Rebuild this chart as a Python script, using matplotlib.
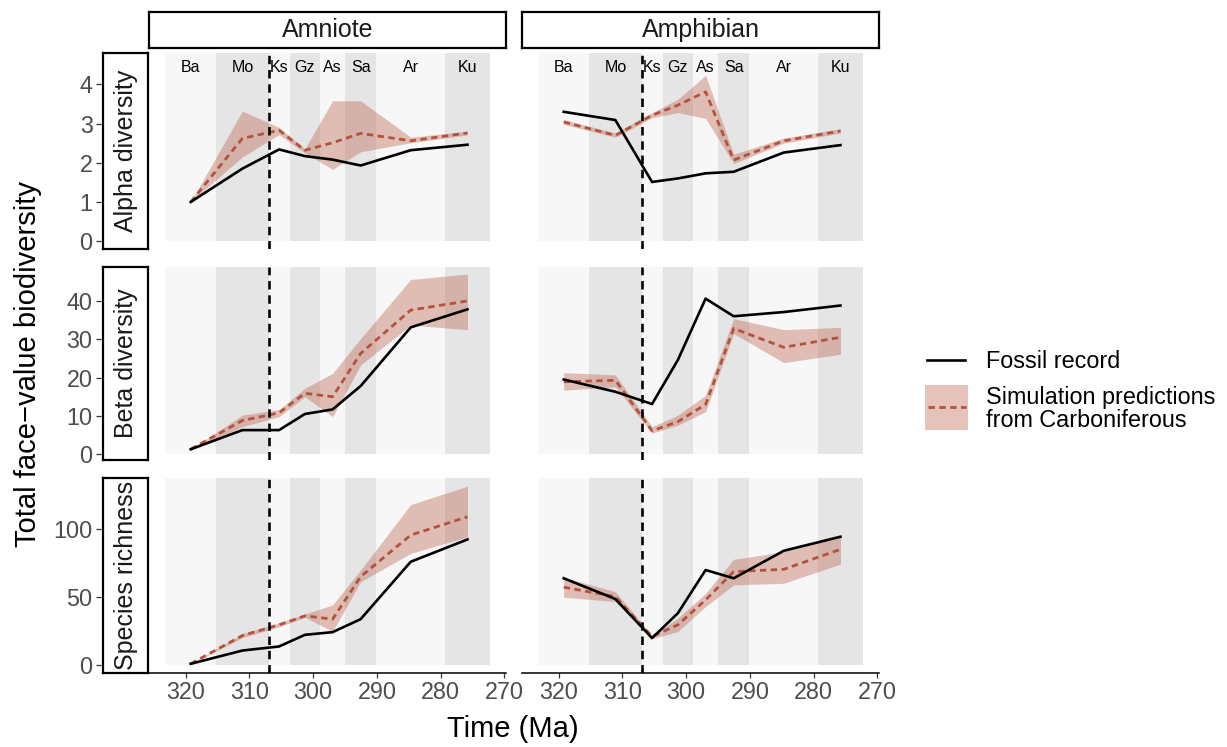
import numpy as np
import matplotlib
matplotlib.use('Agg')
import matplotlib.pyplot as plt
from matplotlib.patches import Rectangle

plt.rcParams['font.family'] = ['Liberation Sans', 'DejaVu Sans']

# stages (GTS2012 boundaries, Ma)
stages = ['Ba', 'Mo', 'Ks', 'Gz', 'As', 'Sa', 'Ar', 'Ku']
stage_top = [323.2, 315.2, 307.0, 303.7, 298.9, 295.0, 290.1, 279.3]
stage_base = [315.2, 307.0, 303.7, 298.9, 295.0, 290.1, 279.3, 272.3]
carb_cut = 307.0

groups = ['Amniote', 'Amphibian']
metrics = ['Alpha diversity', 'Beta diversity', 'Species richness']

# alpha diversity
amn_alpha_fossil = [1.00, 1.85, 2.34, 2.17, 2.08, 1.93, 2.32, 2.46]
amn_alpha_sim = [1.00, 2.62, 2.83, 2.32, 2.51, 2.75, 2.56, 2.76]
amn_alpha_lo = [1.00, 2.15, 2.72, 2.25, 1.83, 2.28, 2.51, 2.71]
amn_alpha_hi = [1.00, 3.32, 2.90, 2.36, 3.58, 3.58, 2.65, 2.81]
amp_alpha_fossil = [3.30, 3.09, 1.51, 1.60, 1.73, 1.77, 2.26, 2.45]
amp_alpha_sim = [3.04, 2.70, 3.21, 3.47, 3.81, 2.07, 2.56, 2.81]
amp_alpha_lo = [2.98, 2.65, 3.15, 3.28, 3.13, 1.98, 2.50, 2.76]
amp_alpha_hi = [3.10, 2.76, 3.28, 3.62, 4.23, 2.22, 2.63, 2.87]

# beta diversity
amn_beta_fossil = [1.3, 6.3, 6.3, 10.5, 11.7, 17.8, 33.1, 37.8]
amn_beta_sim = [1.3, 8.8, 10.8, 15.9, 15.0, 26.3, 37.6, 40.0]
amn_beta_lo = [1.3, 7.2, 9.8, 15.0, 9.8, 23.3, 33.7, 32.5]
amn_beta_hi = [1.3, 10.2, 11.7, 17.2, 21.1, 30.2, 45.6, 47.0]
amp_beta_fossil = [19.5, 16.3, 13.1, 24.6, 40.6, 36.0, 37.1, 38.8]
amp_beta_sim = [18.9, 19.3, 6.1, 8.5, 13.0, 32.8, 27.9, 30.5]
amp_beta_lo = [16.7, 17.6, 5.5, 7.6, 11.1, 31.5, 23.9, 26.1]
amp_beta_hi = [21.3, 20.7, 7.2, 10.2, 15.4, 35.4, 32.5, 33.1]

# species richness
amn_rich_fossil = [0.7, 10.5, 13.5, 22.1, 24.1, 33.7, 76.1, 92.6]
amn_rich_sim = [0.7, 21.6, 29.5, 36.1, 33.7, 65.1, 95.8, 109.3]
amn_rich_lo = [0.7, 20.0, 28.0, 35.0, 24.6, 61.4, 82.3, 94.6]
amn_rich_hi = [0.7, 23.0, 31.0, 37.5, 44.2, 70.0, 118.4, 131.9]
amp_rich_fossil = [63.9, 48.6, 19.7, 38.1, 70.0, 63.9, 84.2, 94.6]
amp_rich_sim = [57.3, 50.3, 20.9, 29.5, 47.9, 68.8, 70.5, 85.3]
amp_rich_lo = [49.9, 46.7, 19.2, 24.6, 43.0, 59.0, 60.2, 74.4]
amp_rich_hi = [64.6, 54.0, 21.6, 34.4, 52.8, 77.9, 83.5, 95.1]

xticks = [320, 310, 300, 290, 280, 270]
yticks = [[0, 1, 2, 3, 4], [0, 10, 20, 30, 40], [0, 50, 100]]

series = {
    (0, 0): (amn_alpha_fossil, amn_alpha_sim, amn_alpha_lo, amn_alpha_hi),
    (0, 1): (amp_alpha_fossil, amp_alpha_sim, amp_alpha_lo, amp_alpha_hi),
    (1, 0): (amn_beta_fossil, amn_beta_sim, amn_beta_lo, amn_beta_hi),
    (1, 1): (amp_beta_fossil, amp_beta_sim, amp_beta_lo, amp_beta_hi),
    (2, 0): (amn_rich_fossil, amn_rich_sim, amn_rich_lo, amn_rich_hi),
    (2, 1): (amp_rich_fossil, amp_rich_sim, amp_rich_lo, amp_rich_hi),
}

mids = (np.array(stage_top) + np.array(stage_base)) / 2
SIM = '#B5523B'
SMALL = 16.8
STRIP = 18
BIG = 21
SIM_LS = (0, (2.3, 1.6))

W, H = 1227, 747
fig = plt.figure(figsize=(W / 100, H / 100), dpi=100)


def frac(x, y, w, h):
    return [x / W, 1 - (y + h) / H, w / W, h / H]


col_x = [149, 522]
col_w = 357
row_y = [53, 267, 478]
row_h = [196, 193, 195]
ylims = [(-0.2, 4.8), (-1.5, 48.85), (-6.1, 138.0)]
xlim = (325.745, 269.755)

for i, metric in enumerate(metrics):
    for j, group in enumerate(groups):
        ax = fig.add_axes(frac(col_x[j], row_y[i], col_w, row_h[i]))
        ax.set_xlim(*xlim)
        ax.set_ylim(*ylims[i])
        top = ylims[i][1]
        for k in range(len(stages)):
            ax.add_patch(Rectangle((stage_base[k], 0), stage_top[k] - stage_base[k], top,
                                   facecolor='#F7F7F7' if k % 2 == 0 else '#E5E5E5',
                                   lw=0, zorder=0))
        fossil, sim, lo, hi = series[(i, j)]
        ax.fill_between(mids, lo, hi, color=SIM, alpha=0.35, lw=0, zorder=2)
        ax.plot(mids, sim, color=SIM, lw=2.0, ls=SIM_LS, zorder=3)
        ax.plot(mids, fossil, color='black', lw=1.9, zorder=4)
        ax.axvline(carb_cut, color='black', lw=1.9, ls=(0, (3.2, 2.2)), zorder=5)

        if i == 0:
            for k, s in enumerate(stages):
                ax.text(mids[k], 0.925, s, transform=ax.get_xaxis_transform(),
                        ha='center', va='center', fontsize=11.5)

        for s in ['top', 'right']:
            ax.spines[s].set_visible(False)
        if i < 2:
            ax.spines['bottom'].set_visible(False)
            ax.set_xticks([])
        else:
            ax.set_xticks(xticks)
            ax.spines['bottom'].set_linewidth(1.1)
            ax.tick_params(axis='x', length=3.6, width=0.9, color='#333333',
                           labelsize=SMALL, labelcolor='#4D4D4D', pad=2.5)
        if j == 0:
            ax.spines['left'].set_position(('outward', 34.5))
            ax.spines['left'].set_visible(False)
            ax.set_yticks(yticks[i])
            ax.tick_params(axis='y', length=3.6, width=0.9, color='#333333',
                           labelsize=SMALL, labelcolor='#4D4D4D', pad=2.5)
        else:
            ax.spines['left'].set_visible(False)
            ax.set_yticks([])

    # row strip
    sax = fig.add_axes(frac(103, row_y[i], 45, row_h[i]))
    sax.set_xticks([])
    sax.set_yticks([])
    for sp in sax.spines.values():
        sp.set_linewidth(1.6)
    sax.text(0.5, 0.5, metric, rotation=90, ha='center', va='center',
             fontsize=STRIP, color='#1A1A1A', transform=sax.transAxes)

for j, group in enumerate(groups):
    sax = fig.add_axes(frac(col_x[j], 12, col_w, 36))
    sax.set_xticks([])
    sax.set_yticks([])
    for sp in sax.spines.values():
        sp.set_linewidth(1.6)
    sax.text(0.5, 0.5, group, ha='center', va='center',
             fontsize=STRIP, color='#1A1A1A', transform=sax.transAxes)

fig.text(28 / W, 1 - 364 / H, 'Total face\u2212value biodiversity', rotation=90,
         ha='center', va='center', fontsize=BIG)
fig.text(513 / W, 1 - 729 / H, 'Time (Ma)', ha='center', va='center', fontsize=BIG)

# legend
lax = fig.add_axes([0, 0, 1, 1])
lax.set_xlim(0, W)
lax.set_ylim(H, 0)
lax.axis('off')
lax.plot([927, 965], [360, 360], color='black', lw=1.9)
lax.add_patch(Rectangle((925, 385), 43, 45, color=SIM, alpha=0.35, lw=0))
lax.plot([928, 966], [407, 407], color=SIM, lw=2.0, ls=SIM_LS)
lax.text(986, 361, 'Fossil record', va='center', fontsize=SMALL)
lax.text(986, 409, 'Simulation predictions\nfrom Carboniferous', va='center',
         fontsize=SMALL, linespacing=0.95)

fig.savefig('out.png', dpi=100)
